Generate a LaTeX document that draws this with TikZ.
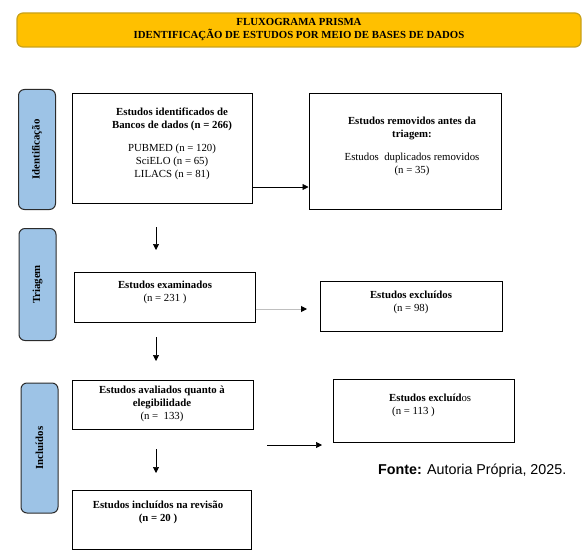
\documentclass[tikz,border=0pt]{standalone}
\usepackage{fontspec}
\setmainfont{Liberation Serif}
\newfontfamily\arialfont{Liberation Sans}
\usetikzlibrary{arrows.meta}
\definecolor{titlefill}{HTML}{FFC000}
\definecolor{titledraw}{HTML}{C9A21A}
\definecolor{sidefill}{HTML}{9DC3E6}
\definecolor{sidedraw}{HTML}{2B2B2B}
\definecolor{grayline}{HTML}{BFBFBF}
\tikzset{
  boxnode/.style={draw=black, line width=1pt, minimum width=#1, inner sep=0pt},
  sidebox/.style={draw=sidedraw, fill=sidefill, line width=1pt, rounded corners=6pt, inner sep=0pt, minimum width=37pt},
  sidetext/.style={rotate=90, font=\bfseries\fontsize{10.8}{12}\selectfont, inner sep=0pt},
  bodytext/.style={align=center, inner sep=0pt, font=\fontsize{10.8}{13}\selectfont},
  arr/.style={line width=0.7pt, draw=black, -{Triangle[length=6pt,width=6pt,color=black]}},
}
\begin{document}
\begin{tikzpicture}[x=1pt,y=-1pt]
\useasboundingbox (0,0) rectangle (586,559);
% title
\node[draw=titledraw, fill=titlefill, line width=1.2pt, rounded corners=6pt, minimum width=564pt, minimum height=34pt, inner sep=0pt,
      align=center, font=\bfseries\fontsize{10.8}{13}\selectfont] (title) at (299,30)
      {FLUXOGRAMA PRISMA\\IDENTIFICAÇÃO DE ESTUDOS POR MEIO DE BASES DE DADOS};
% side labels
\node[sidebox, minimum height=120pt] (sid) at (37,149.5) {};
\node[sidetext] (sidt) at (sid.center) {Identificação};
\node[sidebox, minimum height=112pt] (str) at (37.5,284.5) {};
\node[sidetext] (strt) at (str.center) {Triagem};
\node[sidebox, minimum height=130pt] (sin) at (39.5,448) {};
\node[sidetext] (sint) at (sin.center) {Incluídos};
% boxes
\node[boxnode=180pt, minimum height=109pt] (b1) at (162,148.5) {};
\node[bodytext] (t1) at (172,143.5) {\textbf{Estudos identificados de}\\\textbf{Bancos de dados (n = 266)}\\[10pt]PUBMED (n = 120)\\SciELO (n = 65)\\LILACS (n = 81)};
\node[boxnode=192pt, minimum height=115pt] (b2) at (405,151.5) {};
\node[bodytext] (t2) at (412,146.5) {\textbf{Estudos removidos antes da}\\\textbf{triagem:}\\[10pt]Estudos\ \ duplicados removidos\\(n = 35)};
\node[boxnode=181pt, minimum height=50pt] (b3) at (164.5,297) {};
\node[bodytext] (t3) at (165,292) {\textbf{Estudos examinados}\\(n = 231 )};
\node[boxnode=182pt, minimum height=50pt] (b4) at (411,306) {};
\node[bodytext] (t4) at (411,302) {\textbf{Estudos excluídos}\\(n = 98)};
\node[boxnode=181pt, minimum height=49pt] (b5) at (162.5,404.5) {};
\node[bodytext] (t5) at (162,403.5) {\textbf{Estudos avaliados quanto à}\\\textbf{elegibilidade}\\(n =\ \ 133)};
\node[boxnode=179pt, minimum height=59pt] (b6) at (161.5,519.5) {};
\node[bodytext] (t6) at (158,512.5) {\textbf{Estudos incluídos na revisão}\\\textbf{(n = 20 )}};
\node[boxnode=181pt, minimum height=63pt] (b7) at (423.5,410.5) {};
\node[bodytext, align=left, anchor=west] (t7) at (389,405) {\textbf{Estudos excluíd}os\\\hspace*{3pt}(n = 113 )};
% connectors
\draw[arr] (b1.east |- 0,187) -- (b2.west |- 0,187);
\coordinate (d1s) at (156,227);
\coordinate (d1e) at (156,250);
\draw[arr] (d1s) -- (d1e);
\coordinate (e4e) at (307,309);
\draw[arr, draw=grayline, line width=1pt] (b3.east |- 0,309) -- (e4e);
\coordinate (d2s) at (156,337);
\coordinate (d2e) at (156,361);
\draw[arr] (d2s) -- (d2e);
\coordinate (d3s) at (156,449);
\coordinate (d3e) at (156,473);
\draw[arr] (d3s) -- (d3e);
\coordinate (e7s) at (267,445);
\coordinate (e7e) at (322,445);
\draw[arr] (e7s) -- (e7e);
% source
\node[inner sep=0pt, anchor=west, font=\arialfont\fontsize{14.3}{16}\selectfont] (fonte) at (378,471) {\textbf{Fonte:} Autoria Própria, 2025.};
\end{tikzpicture}
\end{document}
